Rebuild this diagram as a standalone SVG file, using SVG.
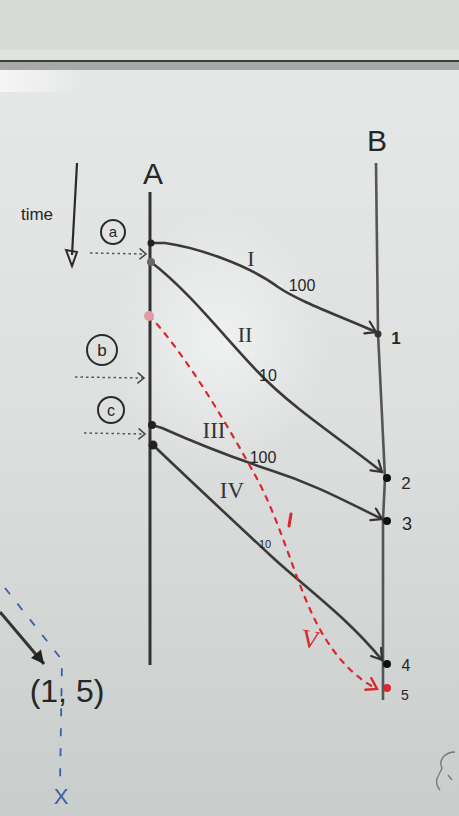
<svg xmlns="http://www.w3.org/2000/svg" width="459" height="816" viewBox="0 0 459 816">
<defs>
<linearGradient id="board" x1="0" y1="0" x2="0" y2="1">
<stop offset="0" stop-color="#e8eae9"/>
<stop offset="0.5" stop-color="#dde0df"/>
<stop offset="1" stop-color="#c9cdcc"/>
</linearGradient>
<linearGradient id="tl" x1="0" y1="0" x2="1" y2="0">
<stop offset="0" stop-color="#f8f9f8" stop-opacity="0.85"/>
<stop offset="1" stop-color="#f8f9f8" stop-opacity="0"/>
</linearGradient>
<radialGradient id="glare" cx="0.5" cy="0.5" r="0.5">
<stop offset="0" stop-color="#f6f8f7" stop-opacity="0.7"/>
<stop offset="1" stop-color="#f6f8f7" stop-opacity="0"/>
</radialGradient>
<marker id="open" viewBox="-12 -8 14 16" markerWidth="14" markerHeight="16" refX="0" refY="0" orient="auto" markerUnits="userSpaceOnUse">
<path d="M-10,-7 L0,0 L-10,6" fill="none" stroke="#333" stroke-width="2.2" stroke-linecap="round"/>
</marker>
<marker id="openred" viewBox="-12 -8 14 16" markerWidth="14" markerHeight="16" refX="0" refY="0" orient="auto" markerUnits="userSpaceOnUse">
<path d="M-10,-7 L0,0 L-10,6" fill="none" stroke="#d8282d" stroke-width="2.4" stroke-linecap="round"/>
</marker>
<marker id="chev" viewBox="-8 -6 10 12" markerWidth="10" markerHeight="12" refX="0" refY="0" orient="auto" markerUnits="userSpaceOnUse">
<path d="M-6,-5 L0,0 L-6,5" fill="none" stroke="#444" stroke-width="1.5" stroke-linecap="round"/>
</marker>
<marker id="solid" viewBox="-14 -8 16 16" markerWidth="16" markerHeight="16" refX="0" refY="0" orient="auto" markerUnits="userSpaceOnUse">
<path d="M-13,-7 L0,0 L-13,6 Z" fill="#222"/>
</marker>
</defs>
<style>
.hand{font-family:"Liberation Sans","DejaVu Sans",sans-serif;fill:#262626}
.roman{font-family:"Liberation Serif","DejaVu Serif",serif;fill:#333}
.msg{fill:none;stroke:#3a3a3a;stroke-width:2.6;stroke-linecap:round}
.dot{stroke:#555;stroke-width:1.5;stroke-dasharray:2.5,3;fill:none}
.circ{fill:none;stroke:#2a2a2a;stroke-width:2}
.red{fill:none;stroke:#d8282d;stroke-width:2.2;stroke-dasharray:5,7;stroke-linecap:round}
</style>
<g id="background">
<rect x="0" y="0" width="459" height="816" fill="url(#board)"/>
<rect x="0" y="0" width="459" height="50" fill="#d9dbd6"/>
<rect x="0" y="50" width="459" height="11" fill="#e1e3e0"/>
<rect x="0" y="60" width="459" height="2" fill="#3c3e3e"/>
<rect x="0" y="62" width="459" height="8" fill="#a7a9a8"/>
<rect x="0" y="70" width="80" height="22" fill="url(#tl)"/>
<ellipse cx="220" cy="340" rx="110" ry="130" fill="url(#glare)"/>
</g>
<g id="lifeline-A">
<line x1="150" y1="192" x2="150" y2="665" stroke="#333" stroke-width="3"/>
<text class="hand" x="153" y="184" font-size="30" text-anchor="middle">A</text>
</g>
<g id="lifeline-B">
<path d="M376,163 L378,333 L385,478 L383,520 L383,700" fill="none" stroke="#555" stroke-width="2.6"/>
<text class="hand" x="377" y="151" font-size="30" text-anchor="middle">B</text>
</g>
<g id="time-axis">
<line x1="77" y1="163" x2="72" y2="255" stroke="#2a2a2a" stroke-width="2.2"/>
<path d="M66,250 L72,266 L77,252 Z" fill="none" stroke="#2a2a2a" stroke-width="2"/>
<text class="hand" x="37" y="220" font-size="17" text-anchor="middle">time</text>
</g>
<g id="event-a">
<circle class="circ" cx="113" cy="232" r="12"/>
<text class="hand" x="113" y="237" font-size="15" text-anchor="middle">a</text>
<line class="dot" x1="90" y1="253" x2="146" y2="254" marker-end="url(#chev)"/>
</g>
<g id="event-b">
<circle class="circ" cx="102" cy="350" r="15"/>
<text class="hand" x="102" y="356" font-size="17" text-anchor="middle">b</text>
<line class="dot" x1="75" y1="377" x2="144" y2="378" marker-end="url(#chev)"/>
</g>
<g id="event-c">
<circle class="circ" cx="111" cy="410" r="13"/>
<text class="hand" x="111" y="416" font-size="16" text-anchor="middle">c</text>
<line class="dot" x1="84" y1="433" x2="145" y2="434" marker-end="url(#chev)"/>
</g>
<g id="connectors">
<path class="msg" d="M151,243 L165,243 C200,248 250,266 278,287 C300,302 340,316 376,332" marker-end="url(#open)"/>
<path class="msg" stroke="#4a4a4a" d="M151,262 C190,292 225,338 258,372 C292,408 342,440 382,472" marker-end="url(#open)"/>
<path class="msg" d="M152,425 L162,428 C200,445 240,460 270,470 C320,486 352,505 382,519" marker-end="url(#open)"/>
<path class="msg" d="M153,445 C200,490 240,527 270,555 C302,585 345,615 382,660" marker-end="url(#open)"/>
<path class="red" d="M149,315 C190,360 230,430 255,475 C280,520 295,580 315,620 C330,650 350,675 377,689" marker-end="url(#openred)"/>
<line x1="291" y1="514" x2="289" y2="526" stroke="#d8282d" stroke-width="3" stroke-linecap="round"/>
</g>
<g id="dots-A">
<circle cx="151" cy="243" r="3.5" fill="#222"/>
<circle cx="151" cy="262" r="4" fill="#666"/>
<circle cx="149" cy="316" r="5" fill="#e59aa3"/>
<circle cx="152" cy="425" r="4" fill="#222"/>
<circle cx="153" cy="445" r="4.5" fill="#222"/>
</g>
<g id="dots-B">
<circle cx="378" cy="334" r="3.5" fill="#333"/>
<circle cx="387" cy="478" r="4" fill="#111"/>
<circle cx="387" cy="521" r="4" fill="#111"/>
<circle cx="387" cy="664" r="4" fill="#111"/>
<circle cx="387" cy="688" r="4" fill="#d8282d"/>
</g>
<g id="msg-labels">
<text class="roman" x="251" y="266" font-size="22" text-anchor="middle">I</text>
<text class="hand" x="302" y="291" font-size="16" text-anchor="middle">100</text>
<text class="roman" x="245" y="342" font-size="22" text-anchor="middle">II</text>
<text class="hand" x="268" y="381" font-size="16" text-anchor="middle">10</text>
<text class="roman" x="214" y="438" font-size="23" text-anchor="middle">III</text>
<text class="hand" x="263" y="463" font-size="16" text-anchor="middle">100</text>
<text class="roman" x="232" y="498" font-size="23" text-anchor="middle">IV</text>
<text class="hand" x="265" y="548" font-size="11" text-anchor="middle">10</text>
<text class="roman" x="0" y="0" font-size="26" text-anchor="middle" style="fill:#d8282d" transform="translate(309,648) rotate(10)">V</text>
</g>
<g id="B-labels">
<text class="hand" x="396" y="344" font-size="17" font-weight="bold" text-anchor="middle">1</text>
<text class="hand" x="406" y="489" font-size="17" text-anchor="middle">2</text>
<text class="hand" x="407" y="530" font-size="18" text-anchor="middle">3</text>
<text class="hand" x="406" y="671" font-size="16" text-anchor="middle">4</text>
<text class="hand" x="405" y="700" font-size="14" text-anchor="middle">5</text>
</g>
<g id="pair">
<path d="M5,588 L62,660 L60,785" fill="none" stroke="#3a5fa8" stroke-width="1.8" stroke-dasharray="8,12"/>
<text x="61" y="804" font-size="22" text-anchor="middle" font-family="Liberation Sans, sans-serif" fill="#3a5fa8">X</text>
<line x1="0" y1="612" x2="44" y2="664" stroke="#333" stroke-width="3" marker-end="url(#solid)"/>
<text class="hand" x="67" y="702" font-size="32" text-anchor="middle">(1, 5)</text>
</g>
<g id="scribble">
<path d="M455,752 C445,752 438,760 442,768 C440,775 432,780 440,790 M448,775 L452,780" fill="none" stroke="#777" stroke-width="1.3"/>
</g>
</svg>
